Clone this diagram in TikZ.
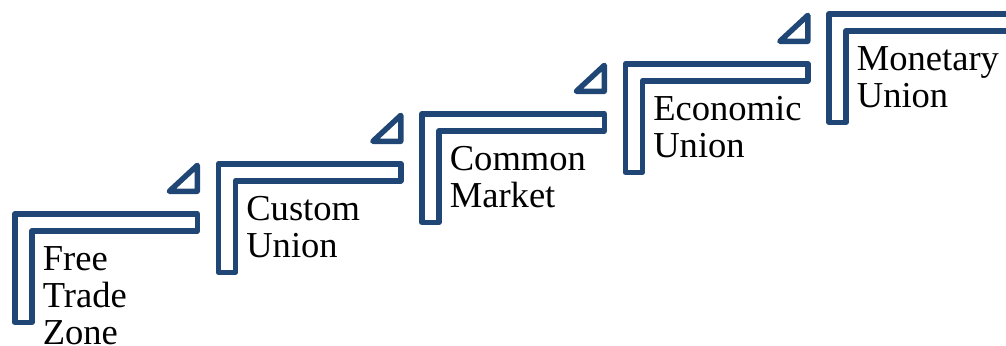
\documentclass[tikz,border=0pt]{standalone}
\usepackage{fontspec}
\setmainfont{Liberation Serif}
\definecolor{stairblue}{RGB}{31,70,116}

\begin{document}
\begin{tikzpicture}[x=0.02cm, y=-0.02cm,
	stair/.style={draw=stairblue, line width=3.1pt, line join=round},
	stagetext/.style={anchor=base west, inner sep=0pt, align=left, font=\fontsize{20.8}{21}\selectfont}]
\useasboundingbox (0, 0) rectangle (1006, 345);
\clip (0, 0) rectangle (1006, 345);

% L-shaped steps, each one 203.5 to the right and 50 higher
\foreach \i in {0, 1, 2, 3, 4}
	\draw[stair] ({14.8 + 203.5*\i}, {213.8 - 50*\i}) -- ++(182.5, 0) -- ++(0, 17) -- ++(-165.5, 0) -- ++(0, 91.5) -- ++(-17, 0) -- cycle;

% small triangles above the first four steps
\foreach \i in {0, 1, 2, 3}
	\draw[stair] ({197.3 + 203.5*\i}, {191.3 - 50*\i}) -- ++(-28, 0) -- ++(28, -26) -- cycle;

% labels sit on the baseline of their last line
\node[stagetext] (free) at (42.5, 344.5) {Free\\Trade\\Zone};
\node[stagetext] (custom) at (246, 257.6) {Custom\\Union};
\node[stagetext] (common) at (449.5, 207.6) {Common\\Market};
\node[stagetext] (economic) at (653, 157.6) {Economic\\Union};
\node[stagetext] (monetary) at (856.5, 107.6) {Monetary\\Union};
\end{tikzpicture}
\end{document}
